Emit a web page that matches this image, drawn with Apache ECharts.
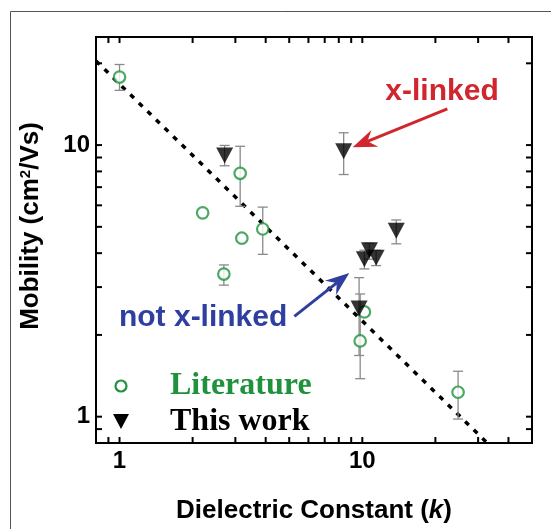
<!DOCTYPE html>
<html>
<head>
<meta charset="utf-8">
<script src="https://cdn.jsdelivr.net/npm/echarts@6/dist/echarts.min.js"></script>
<style>html,body{margin:0;padding:0;background:#fff}#c{width:551px;height:529px}</style>
</head>
<body>
<div id="c"></div>
<script>
// ---- data ----
const litX    = [1.0, 2.2, 2.69, 3.14, 3.19, 3.89, 10.2, 9.8, 24.8];
const litY    = [17.8, 5.63, 3.35, 7.87, 4.54, 4.91, 2.43, 1.90, 1.23];
const litLow  = [15.9, null, 3.05, 5.95, null, 3.96, null, 1.38, 0.98];
const litHigh = [19.8, null, 3.62, 9.9, null, 5.91, null, 2.83, 1.47];

const workX    = [2.71, 8.38, 9.7, 10.2, 10.7, 11.4, 13.8];
const workY    = [9.15, 9.49, 2.5, 3.8, 4.1, 3.85, 4.84];
const workLow  = [8.39, 7.79, 1.68, 3.5, 3.8, 3.6, 4.33];
const workHigh = [9.97, 11.1, 3.25, 4.1, 4.35, 4.1, 5.3];

const fitX = [0.8, 32.7];
const fitY = [20.4, 0.8];

const xTicks = [0.9, 1, 2, 3, 4, 5, 6, 7, 8, 9, 10, 20, 30, 40];
const yTicks = [0.9, 1, 2, 3, 4, 5, 6, 7, 8, 9, 10, 20];
const xLabels = [1, 10];
const yLabels = [1, 10];

const X_MIN = 0.8, X_MAX = 50, Y_MIN = 0.8, Y_MAX = 25;

const GREEN = '#20923e', RED = '#d1262d', BLUE = '#2e3f9f', GRAY = '#8a8a8a';
const SANS = "'Liberation Sans', Arial, Helvetica, sans-serif";
const SERIF = "'Liberation Serif', 'Times New Roman', serif";
const TRI = 'path://M0,0L10,0L5,10Z';

const chart = echarts.init(document.getElementById('c'), null, {renderer: 'canvas'});

function errData(xs, lo, hi) {
  const out = [];
  xs.forEach((x, i) => { if (lo[i] != null) out.push([x, lo[i], hi[i]]); });
  return out;
}
function errRender(params, api) {
  const x = api.value(0);
  const a = api.coord([x, api.value(1)]);
  const b = api.coord([x, api.value(2)]);
  const w = 5;
  const st = {stroke: GRAY, lineWidth: 1.3};
  return {type: 'group', children: [
    {type: 'line', shape: {x1: a[0], y1: a[1], x2: b[0], y2: b[1]}, style: st},
    {type: 'line', shape: {x1: a[0]-w, y1: a[1], x2: a[0]+w, y2: a[1]}, style: st},
    {type: 'line', shape: {x1: b[0]-w, y1: b[1], x2: b[0]+w, y2: b[1]}, style: st}
  ]};
}
const TL = 6;
function xTickRender(params, api) {
  const v = api.value(0);
  const p = api.coord([v, Y_MIN]);
  const q = api.coord([v, Y_MAX]);
  const st = {stroke: '#000', lineWidth: 2};
  return {type: 'group', children: [
    {type: 'line', shape: {x1: p[0], y1: p[1], x2: p[0], y2: p[1]-TL}, style: st},
    {type: 'line', shape: {x1: q[0], y1: q[1], x2: q[0], y2: q[1]+TL}, style: st}
  ]};
}
function yTickRender(params, api) {
  const v = api.value(1);
  const p = api.coord([X_MIN, v]);
  const q = api.coord([X_MAX, v]);
  const st = {stroke: '#000', lineWidth: 2};
  return {type: 'group', children: [
    {type: 'line', shape: {x1: p[0], y1: p[1], x2: p[0]+TL, y2: p[1]}, style: st},
    {type: 'line', shape: {x1: q[0], y1: q[1], x2: q[0]-TL, y2: q[1]}, style: st}
  ]};
}
const labelFmt = (list) => (v) => {
  for (const t of list) if (Math.abs(v - t) < 1e-6 * t) return String(t);
  return '';
};

chart.setOption({
  animation: false,
  backgroundColor: '#fff',
  grid: {left: 96, right: 19, top: 37, bottom: 76, show: true, borderColor: '#000', borderWidth: 2, backgroundColor: 'transparent'},
  xAxis: {
    type: 'log', logBase: 10, min: X_MIN, max: X_MAX,
    axisLine: {show: false}, axisTick: {show: false}, splitLine: {show: false}, minorTick: {show: false},
    axisLabel: {formatter: labelFmt(xLabels), showMinLabel: false, showMaxLabel: false, margin: 6,
      color: '#000', fontFamily: SANS, fontWeight: 'bold', fontSize: 24},
    name: '{b|Dielectric Constant (}{i|k}{b|)}',
    nameLocation: 'middle', nameGap: 55,
    nameTextStyle: {rich: {
      b: {fontFamily: SANS, fontWeight: 'bold', fontSize: 26, color: '#000'},
      i: {fontFamily: SANS, fontWeight: 'bold', fontStyle: 'italic', fontSize: 26, color: '#000'}
    }}
  },
  yAxis: {
    type: 'log', logBase: 10, min: Y_MIN, max: Y_MAX,
    axisLine: {show: false}, axisTick: {show: false}, splitLine: {show: false}, minorTick: {show: false},
    axisLabel: {formatter: labelFmt(yLabels), showMinLabel: false, showMaxLabel: false, margin: 6,
      color: '#000', fontFamily: SANS, fontWeight: 'bold', fontSize: 24},
    name: '{b|Mobility (cm}{s|2}{b|/Vs)}',
    nameLocation: 'middle', nameGap: 52,
    nameTextStyle: {padding: [0, 0, 0, 28], rich: {
      b: {fontFamily: SANS, fontWeight: 'bold', fontSize: 26, color: '#000'},
      s: {fontFamily: SANS, fontWeight: 'bold', fontSize: 15, color: '#000', verticalAlign: 'top', lineHeight: 26}
    }}
  },
  series: [
    {type: 'custom', name: 'xticks', renderItem: xTickRender, clip: false, silent: true,
     data: xTicks.map(v => [v, Y_MIN]), encode: {x: 0, y: 1}, z: 5},
    {type: 'custom', name: 'yticks', renderItem: yTickRender, clip: false, silent: true,
     data: yTicks.map(v => [X_MIN, v]), encode: {x: 0, y: 1}, z: 5},
    {type: 'line', name: 'fit', data: fitX.map((x, i) => [x, fitY[i]]), symbol: 'none',
     lineStyle: {color: '#000', width: 3.5, type: [5, 7]}, z: 2, silent: true},
    {type: 'custom', name: 'litErr', renderItem: errRender, data: errData(litX, litLow, litHigh),
     encode: {x: 0, y: [1, 2]}, z: 3, silent: true},
    {type: 'custom', name: 'workErr', renderItem: errRender, data: errData(workX, workLow, workHigh),
     encode: {x: 0, y: [1, 2]}, z: 3, silent: true},
    {type: 'scatter', name: 'Literature', data: litX.map((x, i) => [x, litY[i]]),
     symbol: 'circle', symbolSize: 11.5,
     itemStyle: {color: '#fff', borderColor: GREEN, borderWidth: 2.2}, z: 4},
    {type: 'scatter', name: 'This work', data: workX.map((x, i) => [x, workY[i]]),
     symbol: TRI, symbolSize: [17, 16], symbolKeepAspect: false,
     itemStyle: {color: '#000'}, z: 6}
  ]
});

// ---- annotations anchored in data space ----
const annRedTail = [22.4, 13.6], annRedTip = [9.12, 9.81];
const annBlueTail = [5.25, 2.34], annBlueTip = [8.84, 3.38];
const annRedText = [21.3, 15.7], annBlueText = [2.21, 2.32];

const px = (d) => chart.convertToPixel({gridIndex: 0}, d);

function arrow(tailD, tipD, color) {
  const t = px(tailD), h = px(tipD);
  const dx = h[0] - t[0], dy = h[1] - t[1];
  const L = Math.hypot(dx, dy), ux = dx / L, uy = dy / L;
  const nx = -uy, ny = ux;
  const HL = 24, HW = 9, NOTCH = 16;
  const base = [h[0] - ux * HL, h[1] - uy * HL];
  const notch = [h[0] - ux * NOTCH, h[1] - uy * NOTCH];
  return [
    {type: 'line', shape: {x1: t[0], y1: t[1], x2: notch[0], y2: notch[1]},
     style: {stroke: color, lineWidth: 3}, z: 20},
    {type: 'polygon', shape: {points: [h, [base[0] + nx * HW, base[1] + ny * HW], notch,
      [base[0] - nx * HW, base[1] - ny * HW]]}, style: {fill: color}, z: 20}
  ];
}

const rt = px(annRedText), bt = px(annBlueText);
const graphics = [
  {type: 'rect', shape: {x: 10.5, y: 11.5, width: 700, height: 700}, style: {fill: 'none', stroke: '#555', lineWidth: 1}, z: 1, silent: true},
  ...arrow(annRedTail, annRedTip, RED),
  ...arrow(annBlueTail, annBlueTip, BLUE),
  {type: 'text', x: rt[0], y: rt[1], style: {text: 'x-linked', fill: RED, font: "bold 30px " + SANS, align: 'center', verticalAlign: 'middle'}, z: 20},
  {type: 'text', x: bt[0], y: bt[1], style: {text: 'not x-linked', fill: BLUE, font: "bold 30px " + SANS, align: 'center', verticalAlign: 'middle'}, z: 20},
  // legend
  {type: 'circle', shape: {cx: 121, cy: 386, r: 5.5}, style: {fill: '#fff', stroke: GREEN, lineWidth: 2.2}, z: 20},
  {type: 'polygon', shape: {points: [[113, 414], [129, 414], [121, 429]]}, style: {fill: '#000'}, z: 20},
  {type: 'text', x: 170, y: 386, style: {text: 'Literature', fill: GREEN, font: "bold 32px " + SERIF, align: 'left', verticalAlign: 'middle'}, z: 20},
  {type: 'text', x: 170, y: 422, style: {text: 'This work', fill: '#000', font: "bold 32px " + SERIF, align: 'left', verticalAlign: 'middle'}, z: 20}
];
chart.setOption({graphic: graphics});
</script>
</body>
</html>
